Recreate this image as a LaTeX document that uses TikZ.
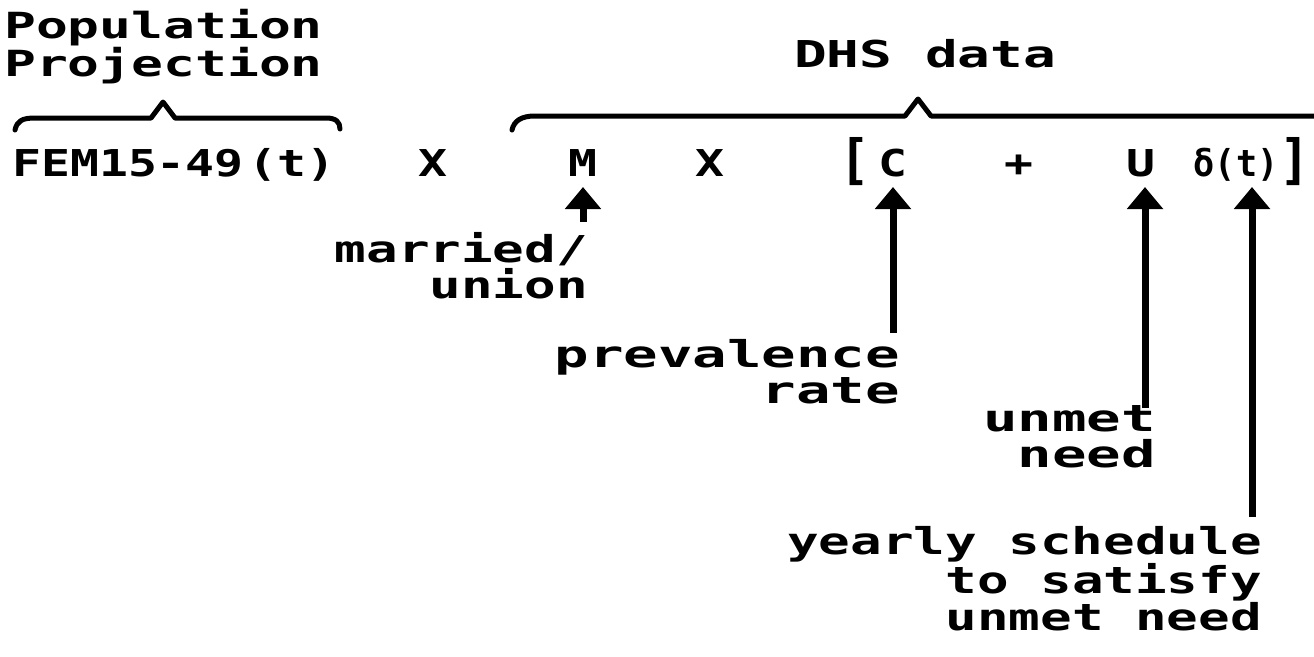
\documentclass[tikz,border=0pt]{standalone}
\usepackage{fontspec}
\setmainfont{DejaVu Sans Mono}[FakeStretch=1.55]
\newfontfamily\headfont{DejaVu Sans Mono}[FakeStretch=1.47]
\newfontfamily\rowfont{DejaVu Sans Mono}[FakeStretch=1.3]
\newfontfamily\labfont{DejaVu Sans Mono}[FakeStretch=1.42]
\newfontfamily\narrowfont{DejaVu Sans Mono}[FakeStretch=0.95]
\usetikzlibrary{arrows.meta}
\begin{document}
\begin{tikzpicture}[x=1pt,y=-1pt,
  head/.style={inner sep=0pt,font=\headfont\fontsize{36}{38}\selectfont\bfseries},
  row/.style={inner sep=0pt,font=\rowfont\fontsize{37}{37}\selectfont\bfseries},
  lbl/.style={inner sep=0pt,align=right,font=\fontsize{37}{35.5}\selectfont\bfseries},
  lbln/.style={inner sep=0pt,align=right,font=\labfont\fontsize{37}{36.5}\selectfont\bfseries},
  brace/.style={line width=5pt,line cap=round,line join=round},
  pointer/.style={line width=7pt,-{Triangle[width=35pt,length=22pt]}}]
\useasboundingbox (0,0) rectangle (1314,656);
% headings (base anchor = baseline of last line)
\node[head,anchor=base west,align=left] (pop) at (4,76) {Population\\Projection};
\node[head,anchor=base,font=\headfont\fontsize{37}{38}\selectfont\bfseries] (dhs) at (925,67) {DHS data};
% braces
\draw[brace] (15,130) .. controls (17,121) and (22,118) .. (35,118) -- (151,118) -- (163,102) -- (175,118) -- (326,118) .. controls (336,118) and (340,122) .. (340,129);
\draw[brace] (512,130) .. controls (514,121) and (521,116) .. (535,116) -- (905,116) -- (918,99) -- (931,116) -- (1316,116);
% formula row
\node[row,anchor=base west] (fem) at (12,176) {FEM15-49\hspace{5pt}(t)};
\node[row,anchor=base] (x1) at (433,176) {X};
\node[row,anchor=base] (M) at (583,176) {M};
\node[row,anchor=base] (x2) at (710,176) {X};
\node[row,anchor=base,font=\narrowfont\fontsize{54}{54}\selectfont\bfseries] (lb) at (855,178) {[};
\node[row,anchor=base] (C) at (893,176) {C};
\node[row,anchor=base] (plus) at (1019,176) {+};
\node[row,anchor=base] (U) at (1141,176) {U};
\node[row,anchor=base,font=\narrowfont\fontsize{37}{37}\selectfont\bfseries] (delta) at (1236,176) {δ(t)};
\node[row,anchor=base,font=\narrowfont\fontsize{54}{54}\selectfont\bfseries] (rb) at (1295,178) {]};
% labels
\node[lbln,anchor=base east,font=\labfont\fontsize{37}{35.5}\selectfont\bfseries] (mar) at (588,298) {married/\\union\hspace{6pt}};
\node[lbl,anchor=base east] (prev) at (900,403) {prevalence\\rate};
\node[lbl,anchor=base east] (unm) at (1156,467) {unmet\\need};
\node[lbln,anchor=base east] (yr) at (1262,630) {yearly schedule\\to satisfy\\unmet need};
% arrows
\coordinate (mt) at (583,222);
\coordinate (ct) at (893,333);
\coordinate (ut) at (1145,408);
\coordinate (dt) at (1252,517);
\draw[pointer] (mt) -- (583,187);
\draw[pointer] (ct) -- (893,187);
\draw[pointer] (ut) -- (1145,187);
\draw[pointer] (dt) -- (1252,187);
\end{tikzpicture}
\end{document}
